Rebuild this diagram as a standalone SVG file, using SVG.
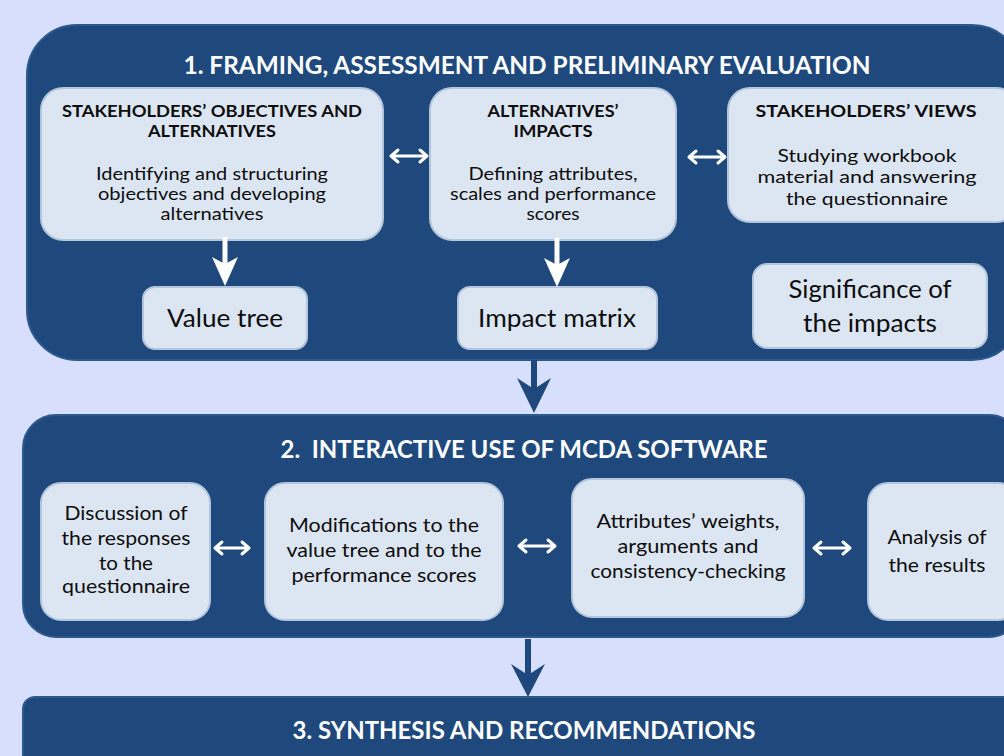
<svg xmlns="http://www.w3.org/2000/svg" width="1004" height="756" viewBox="0 0 1004 756">
<defs>
<style>
.panel{fill:#1f497d;stroke:#2d5a8e;stroke-width:2}
.box{fill:#dce6f2;stroke:#b4c6dc;stroke-width:2}
text{font-family:Lato,"Liberation Sans",sans-serif;text-anchor:middle;fill:#0d0d0d}
.ptitle{font-weight:bold;fill:#ffffff;font-size:24px}
.btitle{font-weight:bold;font-size:17px}
.body{font-size:18px}
.big{font-size:25px}
.mid{font-size:20px}
.dbl{fill:none;stroke:#ffffff;stroke-width:3;stroke-linecap:round;stroke-linejoin:round}
</style>
</defs>
<rect x="0" y="0" width="1004" height="756" fill="#d7dffd"/>

<g id="panel1">
<rect class="panel" x="27" y="25" width="995" height="335" rx="50"/>
<text class="ptitle" x="527" y="74" textLength="687" lengthAdjust="spacingAndGlyphs">1. FRAMING, ASSESSMENT AND PRELIMINARY EVALUATION</text>
</g>

<g id="objectives">
<rect class="box" x="41" y="88" width="342" height="152" rx="22"/>
<text class="btitle" x="212" y="117" textLength="300" lengthAdjust="spacingAndGlyphs">STAKEHOLDERS’ OBJECTIVES AND</text>
<text class="btitle" x="212" y="137" textLength="128" lengthAdjust="spacingAndGlyphs">ALTERNATIVES</text>
<text class="body" x="212" y="180" textLength="232" lengthAdjust="spacingAndGlyphs">Identifying and structuring</text>
<text class="body" x="212" y="200" textLength="228" lengthAdjust="spacingAndGlyphs">objectives and developing</text>
<text class="body" x="212" y="220" textLength="103" lengthAdjust="spacingAndGlyphs">alternatives</text>
</g>

<g id="impacts">
<rect class="box" x="430" y="88" width="246" height="152" rx="22"/>
<text class="btitle" x="553" y="117" textLength="131" lengthAdjust="spacingAndGlyphs">ALTERNATIVES’</text>
<text class="btitle" x="553" y="137" textLength="79" lengthAdjust="spacingAndGlyphs">IMPACTS</text>
<text class="body" x="553" y="180" textLength="169" lengthAdjust="spacingAndGlyphs">Defining attributes,</text>
<text class="body" x="553" y="200" textLength="206" lengthAdjust="spacingAndGlyphs">scales and performance</text>
<text class="body" x="553" y="220" textLength="53" lengthAdjust="spacingAndGlyphs">scores</text>
</g>

<g id="views">
<rect class="box" x="728" y="88" width="290" height="134" rx="22"/>
<text class="btitle" x="866" y="117" textLength="221" lengthAdjust="spacingAndGlyphs">STAKEHOLDERS’ VIEWS</text>
<text class="body" x="867" y="162" textLength="179" lengthAdjust="spacingAndGlyphs">Studying workbook</text>
<text class="body" x="867" y="183" textLength="219" lengthAdjust="spacingAndGlyphs">material and answering</text>
<text class="body" x="867" y="205" textLength="162" lengthAdjust="spacingAndGlyphs">the questionnaire</text>
</g>

<g id="valuetree">
<rect class="box" x="143" y="287" width="164" height="62" rx="12"/>
<text class="big" x="225" y="327" textLength="116" lengthAdjust="spacingAndGlyphs">Value tree</text>
</g>

<g id="impactmatrix">
<rect class="box" x="458" y="287" width="199" height="62" rx="12"/>
<text class="big" x="557" y="327" textLength="158" lengthAdjust="spacingAndGlyphs">Impact matrix</text>
</g>

<g id="significance">
<rect class="box" x="753" y="264" width="234" height="84" rx="14"/>
<text class="big" x="870" y="298" textLength="163" lengthAdjust="spacingAndGlyphs">Significance of</text>
<text class="big" x="870" y="332" textLength="134" lengthAdjust="spacingAndGlyphs">the impacts</text>
</g>

<g id="panel2">
<rect class="panel" x="23" y="415" width="999" height="222" rx="33"/>
<text class="ptitle" x="524" y="458" textLength="487" lengthAdjust="spacingAndGlyphs">2.&#160; INTERACTIVE USE OF MCDA SOFTWARE</text>
</g>

<g id="discussion">
<rect class="box" x="41" y="483" width="169" height="137" rx="20"/>
<text class="mid" x="126" y="520" textLength="123" lengthAdjust="spacingAndGlyphs">Discussion of</text>
<text class="mid" x="126" y="545" textLength="129" lengthAdjust="spacingAndGlyphs">the responses</text>
<text class="mid" x="126" y="570" textLength="54" lengthAdjust="spacingAndGlyphs">to the</text>
<text class="mid" x="126" y="593" textLength="128" lengthAdjust="spacingAndGlyphs">questionnaire</text>
</g>

<g id="modifications">
<rect class="box" x="265" y="483" width="238" height="137" rx="20"/>
<text class="mid" x="384" y="532" textLength="190" lengthAdjust="spacingAndGlyphs">Modifications to the</text>
<text class="mid" x="384" y="557" textLength="195" lengthAdjust="spacingAndGlyphs">value tree and to the</text>
<text class="mid" x="384" y="582" textLength="185" lengthAdjust="spacingAndGlyphs">performance scores</text>
</g>

<g id="weights">
<rect class="box" x="572" y="479" width="232" height="138" rx="20"/>
<text class="mid" x="688" y="528" textLength="183" lengthAdjust="spacingAndGlyphs">Attributes’ weights,</text>
<text class="mid" x="688" y="553" textLength="141" lengthAdjust="spacingAndGlyphs">arguments and</text>
<text class="mid" x="688" y="578" textLength="195" lengthAdjust="spacingAndGlyphs">consistency-checking</text>
</g>

<g id="analysis">
<rect class="box" x="868" y="483" width="150" height="137" rx="20"/>
<text class="mid" x="937" y="544" textLength="99" lengthAdjust="spacingAndGlyphs">Analysis of</text>
<text class="mid" x="937" y="572" textLength="97" lengthAdjust="spacingAndGlyphs">the results</text>
</g>

<g id="panel3">
<rect class="panel" x="23" y="697" width="999" height="80" rx="12"/>
<text class="ptitle" x="524" y="739" textLength="463" lengthAdjust="spacingAndGlyphs">3. SYNTHESIS AND RECOMMENDATIONS</text>
</g>

<g id="connectors">
<path class="dbl" d="M391 156 H427 M398 150 L391 156 L398 162 M420 150 L427 156 L420 162"/>
<path class="dbl" d="M689 157 H725 M696 151 L689 157 L696 163 M718 151 L725 157 L718 163"/>
<path class="dbl" d="M215 548 H249 M222 542 L215 548 L222 554 M242 542 L249 548 L242 554"/>
<path class="dbl" d="M519 546 H555 M526 540 L519 546 L526 552 M548 540 L555 546 L548 552"/>
<path class="dbl" d="M814 548 H850 M821 542 L814 548 L821 554 M843 542 L850 548 L843 554"/>
<line x1="225" y1="237" x2="225" y2="270" stroke="#ffffff" stroke-width="5"/>
<path d="M212 257 L225 264 L238 257 L225 286 Z" fill="#ffffff"/>
<line x1="557" y1="238" x2="557" y2="271" stroke="#ffffff" stroke-width="5"/>
<path d="M544 258 L557 265 L570 258 L557 287 Z" fill="#ffffff"/>
<line x1="534" y1="360" x2="534" y2="395" stroke="#1f497d" stroke-width="6"/>
<path d="M517 378 L534 389 L551 378 L534 413 Z" fill="#1f497d"/>
<line x1="528" y1="639" x2="528" y2="680" stroke="#1f497d" stroke-width="6"/>
<path d="M511 664 L528 675 L545 664 L528 697 Z" fill="#1f497d"/>
</g>
</svg>
